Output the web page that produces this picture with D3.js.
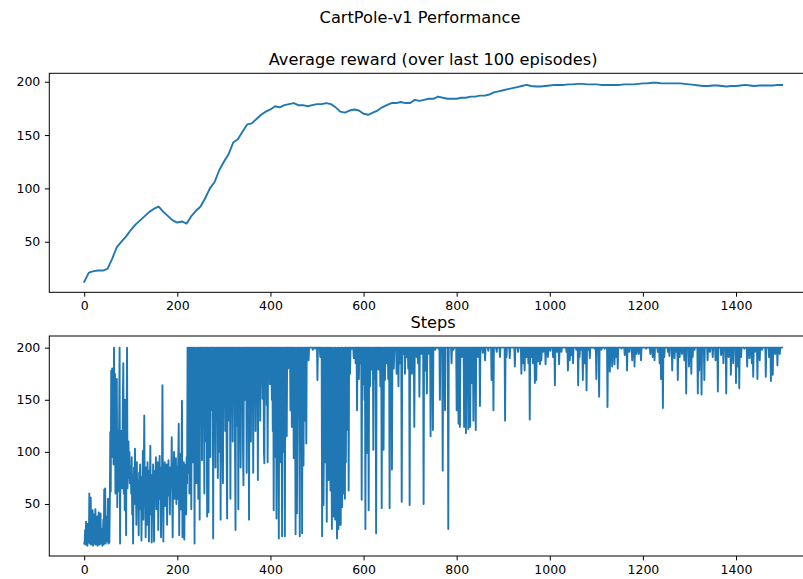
<!DOCTYPE html>
<html>
<head>
<meta charset="utf-8">
<script src="https://cdn.jsdelivr.net/npm/d3@7"></script>
<style>
  body { margin: 0; background: #fff; }
  svg { display: block; }
  text { font-family: "DejaVu Sans", sans-serif; }
</style>
</head>
<body>
<svg id="chart" width="803" height="579"></svg>
<script>
// ---- data ----
const xTicks = [0, 200, 400, 600, 800, 1000, 1200, 1400];
const yTicks = [50, 100, 150, 200];

// episodes at which the running average is sampled
const avgEpisodes = d3.range(0, 1500, 10).concat([1499]);
// average reward over the last 100 episodes
const avgReward = [
  12.5, 21, 22.5, 23, 23, 24.5, 34, 45, 50, 55,
  61, 66, 70, 74, 78, 81, 83, 78, 74, 70,
  68, 69, 67, 74, 79, 83, 91, 100, 106, 117,
  125, 132, 143, 146, 153, 160, 161, 165, 169, 172,
  174, 177, 176, 178, 179, 180, 178, 178, 177, 178,
  179, 179, 180, 179, 176, 172, 171, 173, 174, 173,
  170, 169, 171, 173, 176, 178, 180, 180, 181, 180,
  180, 183, 182, 183, 184, 184, 186, 185, 184, 184,
  184, 185, 185, 186, 186, 187, 187, 188, 190, 191,
  192, 193, 194, 195, 196, 197, 196, 195.5, 195.5, 196,
  196.5, 197, 197, 197, 197.5, 197.5, 198, 198, 197.5, 197.5,
  197.5, 197, 197, 197, 197, 197, 197.5, 197.5, 197.5, 198,
  198.5, 198.5, 199, 199, 198.5, 198.5, 198.5, 198.5, 198.5, 198,
  197.5, 197, 196.5, 196, 196, 196.5, 196.5, 196, 195.5, 196,
  196, 196.5, 197, 196.5, 196, 196.5, 196.5, 196.5, 196.5, 197,
  197
];

// steps survived in each episode (0..1499)
const steps = [
  12,14,25,11,33,12,20,10,31,13, 15,60,12,22,56,11,14,18,44,10, 13,40,12,24,45,
  11,16,12,38,10,21,42,13,11,18, 41,12,15,26,10,13,35,11,64,14, 65,12,22,17,38,
  14,55,12,18,13,50,119,62,178,120, 180,95,160,88,200,140,175,60,130,90, 170,47,120,62,100,
  130,200,12,110,70,120,65,100,150,185, 60,130,44,150,75,20,120,200,65,90, 110,75,100,70,85,
  80,60,95,40,75,12,70,85,50,103, 65,78,30,90,55,72,68,20,80,62, 88,45,70,15,76,
  60,101,35,80,135,50,72,18,85,66, 30,90,58,74,14,82,62,106,40,70, 13,78,55,88,60,
  14,70,82,60,95,45,78,66,90,25, 80,72,96,55,75,18,85,64,164,70, 14,82,68,90,48,
  76,62,88,30,80,70,92,58,78,40, 85,66,72,114,60,18,84,75,100,55, 80,68,94,50,86,
  80,55,95,127,20,75,62,98,45,85, 149,18,70,52,90,16,75,60,88,40, 95,70,200,80,200,
  150,60,200,110,200,45,200,130,90,200, 150,200,12,200,100,160,70,200,120,200, 55,180,200,35,200,
  200,140,200,92,200,124,200,175,60,200, 150,200,110,200,38,200,165,42,200,130, 200,95,200,180,200,
  140,200,17,200,120,200,160,85,200,200, 129,200,75,200,155,200,100,200,35,200, 170,200,110,70,200,
  200,150,200,120,200,200,90,36,200,160, 200,130,200,185,55,200,200,145,200,110, 200,175,200,200,95,
  25,200,160,200,125,200,45,200,190,200, 140,85,200,200,165,200,105,68,200,180, 200,150,200,200,80,
  200,140,200,200,35,200,170,200,110,200, 200,185,200,80,200,150,200,200,120,200, 175,200,200,73,200,
  200,160,200,130,200,200,190,200,151,200, 200,100,89,200,175,200,200,145,200,90, 200,189,200,200,165,
  200,190,200,150,200,120,200,44,200,160, 200,95,200,36,200,140,200,110,17,200, 175,200,90,200,130,
  19,200,200,100,130,200,19,200,160,200, 115,200,200,180,200,200,182,200,140,200, 200,124,200,170,200,
  94,200,200,150,21,200,120,41,200,200, 170,200,110,19,200,200,145,200,22,200, 160,87,200,200,130,
  200,200,108,200,200,200,200,188,200,200, 200,200,200,200,200,200,198,200,200,200, 200,199,200,200,200,
  200,169,200,200,200,200,200,191,200,200, 200,19,160,200,49,130,200,90,108,200, 150,33,200,110,200,
  73,140,200,95,63,200,120,26,200,85, 160,38,200,105,35,200,140,70,17,200, 90,26,200,120,30,
  200,30,120,200,47,200,100,60,200,140, 55,200,90,200,121,200,150,200,63,200, 200,175,200,200,200,
  199,200,200,200,190,200,200,200,185,200, 200,140,200,200,200,170,200,200,185,200, 200,54,200,165,200,
  200,200,150,200,26,200,200,99,200,185, 200,44,200,200,163,200,200,190,179,200, 200,102,200,200,170,
  200,200,22,200,200,188,200,179,200,200, 200,163,200,200,46,200,200,180,102,200, 200,169,200,200,200,
  185,200,200,170,200,200,46,200,200,190, 200,83,200,200,200,180,200,200,199,200, 200,175,200,200,200,
  163,200,200,200,185,200,200,52,200,200, 200,194,200,200,175,200,200,200,191,200, 200,180,200,200,49,
  200,200,200,185,175,200,200,200,200,124, 200,200,200,200,191,200,200,185,200,200, 153,200,200,200,194,
  200,200,200,200,50,200,200,178,200,200, 200,156,200,200,194,200,200,200,200,115, 200,200,200,200,121,
  200,200,200,200,198,200,200,200,200,200, 200,199,200,200,150,200,200,200,200,200, 82,200,200,200,200,
  140,200,200,200,200,200,200,26,200,200, 200,200,200,200,185,200,200,200,198,200, 200,200,200,200,200,
  140,200,200,200,127,200,200,124,200,200, 200,191,200,200,200,200,124,200,200,200, 118,200,200,200,200,
  122,200,200,200,124,200,200,166,200,200, 200,130,200,200,200,200,121,200,200,200, 200,191,200,200,200,
  144,200,200,200,200,200,195,200,200,200, 200,188,200,200,200,200,200,200,197,200, 200,200,200,200,200,
  169,200,200,200,140,200,200,200,200,200, 200,196,200,200,200,200,200,200,191,200, 200,200,200,200,200,
  200,200,200,200,130,200,200,191,200,200, 200,200,200,200,190,200,200,200,200,200, 200,200,200,200,200,
  182,200,200,200,200,200,200,196,200,200, 200,200,200,200,175,200,200,200,185,200, 200,178,200,200,200,
  191,200,200,200,185,200,200,131,200,200, 200,191,200,200,185,200,200,200,166,200, 200,169,200,200,200,
  187,200,200,200,184,200,200,188,200,200, 200,196,200,200,200,200,184,200,200,200, 200,191,200,200,200,
  200,197,200,200,200,200,200,191,200,200, 200,164,200,200,200,200,196,200,200,200, 184,200,200,200,200,
  196,200,200,200,200,200,200,200,200,200, 200,196,200,200,178,200,200,200,188,200, 200,193,200,200,200,
  185,200,200,200,200,200,200,198,200,200, 200,164,200,200,191,200,200,200,198,200, 200,169,200,200,200,
  185,200,200,200,159,200,200,198,200,200, 200,190,200,200,200,200,200,200,200,200, 200,199,200,200,200,
  170,200,200,200,200,200,153,200,200,200, 200,198,200,200,200,200,200,200,199,200, 200,200,200,200,143,
  200,200,200,200,177,200,200,200,200,182, 200,200,200,200,184,200,200,200,191,200, 200,180,200,200,200,
  200,200,200,200,199,200,200,200,200,200, 200,193,200,200,200,200,178,200,200,200, 200,196,200,200,200,
  200,200,188,200,200,200,200,182,200,200, 200,194,200,200,200,200,194,200,200,200, 200,188,200,200,200,
  200,200,200,200,200,200,200,199,200,200, 200,200,200,200,200,200,194,200,200,200, 200,191,200,200,200,
  188,200,200,200,200,200,200,196,200,200, 200,185,200,200,170,200,200,200,142,200, 200,191,200,200,200,
  200,200,200,200,196,200,200,192,200,200, 200,200,200,178,200,200,200,200,190,200, 200,196,200,200,200,
  169,200,200,200,191,200,200,200,200,194, 200,200,200,200,188,200,200,200,156,200, 200,200,200,200,182,
  200,200,200,200,175,200,200,191,200,200, 200,198,200,200,200,200,200,200,156,200, 200,178,200,200,200,
  200,155,200,200,200,200,200,169,200,200, 200,200,200,200,188,200,200,200,200,196, 200,200,200,200,200,
  191,200,200,200,200,200,188,200,200,200, 200,158,200,200,200,200,200,200,193,200, 200,200,200,185,200,
  200,200,200,200,156,200,200,200,200,191, 200,200,200,200,174,200,200,200,200,185, 200,200,200,200,200,
  166,200,200,200,182,200,200,161,200,200, 200,191,200,200,200,200,200,200,199,200, 200,200,200,200,182,
  200,200,200,200,190,200,200,200,200,185, 200,200,172,200,200,200,196,200,200,200, 200,170,200,200,200,
  200,188,200,200,200,200,198,200,200,200, 200,200,200,200,172,200,200,200,200,200, 200,191,200,200,200,
  168,200,200,200,174,200,200,200,200,194, 200,200,200,200,183,200,200,200,200,194, 200,200,200,200,200
];
const stepEpisodes = d3.range(steps.length);

// axis limits (data extent plus a small margin)
const xLimits = [-75, 1574];
const avgLimits = [2.6, 207.9];
const stepLimits = [0.1, 211.2];

// ---- drawing ----
const svg = d3.select("#chart");
const blue = "#1f77b4";
const tickFont = 12.5;
const titleFont = 16.2;

svg.append("text")
  .attr("x", 420).attr("y", 23)
  .attr("text-anchor", "middle")
  .attr("font-size", titleFont)
  .text("CartPole-v1 Performance");

function panel(box, xs, ys, yLim, title, id) {
  const x = d3.scaleLinear().domain(xLimits).range([box.left, box.right]);
  const y = d3.scaleLinear().domain(yLim).range([box.bottom, box.top]);

  svg.append("clipPath").attr("id", id)
    .append("rect")
    .attr("x", box.left).attr("y", box.top)
    .attr("width", box.right - box.left).attr("height", box.bottom - box.top);

  const pts = xs.map((d, i) => [d, ys[i]]);
  svg.append("path")
    .datum(pts)
    .attr("clip-path", `url(#${id})`)
    .attr("fill", "none")
    .attr("stroke", blue)
    .attr("stroke-width", 1.9)
    .attr("stroke-linejoin", "round")
    .attr("stroke-linecap", "square")
    .attr("d", d3.line().x(d => x(d[0])).y(d => y(d[1])));

  const xAxis = svg.append("g")
    .attr("transform", `translate(0,${box.bottom})`)
    .call(d3.axisBottom(x).tickValues(xTicks).tickSize(4.4).tickPadding(4.6).tickFormat(d3.format("d")));
  const yAxis = svg.append("g")
    .attr("transform", `translate(${box.left},0)`)
    .call(d3.axisLeft(y).tickValues(yTicks).tickSize(4.4).tickPadding(4.6).tickFormat(d3.format("d")));
  [xAxis, yAxis].forEach(g => {
    g.select(".domain").remove();
    g.attr("font-family", null).attr("font-size", null);
    g.selectAll(".tick line").attr("stroke", "#000").attr("stroke-width", 1);
    g.selectAll(".tick text").attr("fill", "#000").attr("font-size", tickFont);
  });

  svg.append("rect")
    .attr("x", box.left).attr("y", box.top)
    .attr("width", box.right - box.left).attr("height", box.bottom - box.top)
    .attr("fill", "none").attr("stroke", "#000").attr("stroke-width", 1);

  svg.append("text")
    .attr("x", (box.left + box.right) / 2).attr("y", box.top - 8)
    .attr("text-anchor", "middle")
    .attr("font-size", titleFont)
    .text(title);
}

panel({ left: 49.3, right: 817, top: 73.3, bottom: 292.3 },
      avgEpisodes, avgReward, avgLimits,
      "Average reward (over last 100 episodes)", "clip-avg");
panel({ left: 49.3, right: 817, top: 336, bottom: 556 },
      stepEpisodes, steps, stepLimits, "Steps", "clip-steps");
</script>
</body>
</html>
